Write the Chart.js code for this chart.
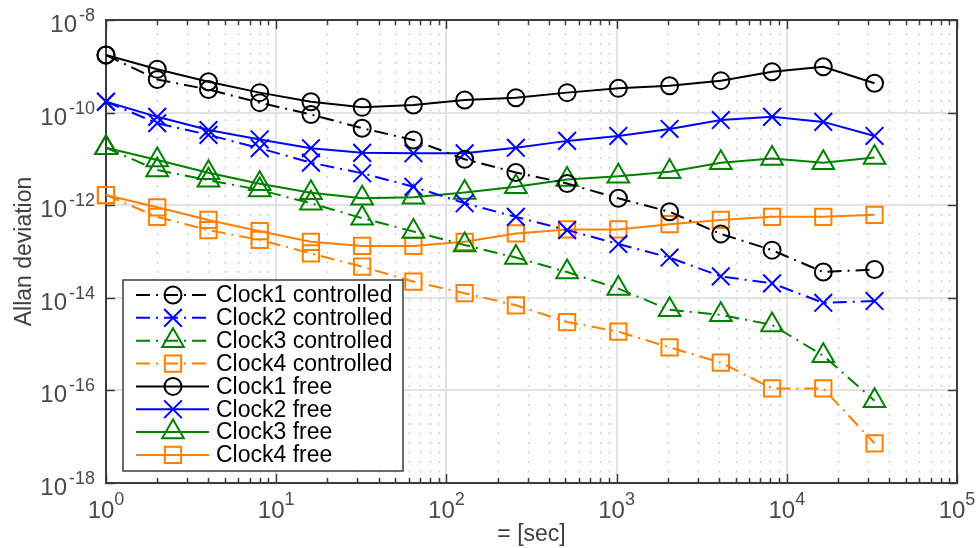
<!DOCTYPE html>
<html>
<head>
<meta charset="utf-8">
<script src="https://cdn.jsdelivr.net/npm/chart.js@4/dist/chart.umd.min.js"></script>
<style>
  html, body { margin: 0; padding: 0; background: #fff; }
  canvas { display: block; }
</style>
</head>
<body>
<canvas id="grafico" width="978" height="548"></canvas>
<script>
// averaging time tau [sec]
const tau = [1, 2, 4, 8, 16, 32, 64, 128, 256, 512, 1024, 2048, 4096, 8192, 16384, 32768];

// Allan deviation, controlled clocks
const clock1Controlled = [1.75e-9, 5.2e-10, 3.16e-10, 1.64e-10, 9.1e-11, 4.6e-11, 2.57e-11, 9.8e-12, 5.1e-12, 2.95e-12, 1.41e-12, 7.2e-13, 2.4e-13, 1.07e-13, 3.6e-14, 4.1e-14];
const clock2Controlled = [1.72e-10, 5.9e-11, 3.3e-11, 1.7e-11, 8.3e-12, 4.9e-12, 2.5e-12, 1.1e-12, 5.6e-13, 2.9e-13, 1.45e-13, 7.4e-14, 2.9e-14, 2.05e-14, 7.8e-15, 8.5e-15];
const clock3Controlled = [1.74e-11, 5.75e-12, 3.47e-12, 2.14e-12, 1.1e-12, 5.25e-13, 2.7e-13, 1.38e-13, 7.4e-14, 3.6e-14, 1.58e-14, 5.5e-15, 4.3e-15, 2.6e-15, 5.6e-16, 6.0e-17];
const clock4Controlled = [1.66e-12, 5.6e-13, 2.9e-13, 1.78e-13, 9.1e-14, 4.7e-14, 2.24e-14, 1.26e-14, 6.9e-15, 3.0e-15, 1.86e-15, 8.5e-16, 4.0e-16, 1.1e-16, 1.1e-16, 7.2e-18];

// Allan deviation, free running clocks
const clock1Free = [1.75e-9, 8.6e-10, 4.65e-10, 2.7e-10, 1.72e-10, 1.3e-10, 1.46e-10, 1.87e-10, 2.1e-10, 2.7e-10, 3.34e-10, 3.8e-10, 4.9e-10, 7.65e-10, 9.8e-10, 4.3e-10];
const clock2Free = [1.72e-10, 8.1e-11, 4.2e-11, 2.63e-11, 1.7e-11, 1.35e-11, 1.32e-11, 1.32e-11, 1.74e-11, 2.45e-11, 3.13e-11, 4.43e-11, 6.9e-11, 8.1e-11, 6.3e-11, 3.13e-11];
const clock3Free = [1.74e-11, 9.5e-12, 5.0e-12, 2.9e-12, 1.86e-12, 1.41e-12, 1.48e-12, 1.88e-12, 2.5e-12, 3.6e-12, 4.2e-12, 5.3e-12, 8.3e-12, 1.02e-11, 8.3e-12, 1.07e-11];
const clock4Free = [1.66e-12, 9.0e-13, 4.8e-13, 2.75e-13, 1.62e-13, 1.32e-13, 1.32e-13, 1.62e-13, 2.45e-13, 3.0e-13, 3.0e-13, 3.9e-13, 4.8e-13, 5.6e-13, 5.6e-13, 6.2e-13];

// axis decades (exponents of 10)
const xTickExponents = [0, 1, 2, 3, 4, 5];
const yTickExponents = [-18, -16, -14, -12, -10, -8];

const seriesLabels = [
    'Clock1 controlled', 'Clock2 controlled', 'Clock3 controlled', 'Clock4 controlled',
    'Clock1 free', 'Clock2 free', 'Clock3 free', 'Clock4 free'
];
const seriesValues = [
    clock1Controlled, clock2Controlled, clock3Controlled, clock4Controlled,
    clock1Free, clock2Free, clock3Free, clock4Free
];

// estilo de cada relógio
const cores = ['#000000', '#0000ff', '#008000', '#ff8000'];
const marcadores = [
    { pointStyle: 'circle', radius: 8.5 },
    { pointStyle: 'crossRot', radius: 12.5 },
    { pointStyle: 'triangle', radius: 12.5 },
    { pointStyle: 'rect', radius: 11.5 }
];
const tracoPontoTraco = [14, 6, 2, 6];

const FONTE = '"Liberation Sans", Arial, Helvetica, sans-serif';
const corEixo = '#3c3c3c';
const corTexto = '#4a4a4a';

const datasets = seriesLabels.map((label, i) => {
    const k = i % 4;
    const controlado = i < 4;
    return {
        label: label,
        data: tau.map((t, j) => ({ x: t, y: seriesValues[i][j] })),
        borderColor: cores[k],
        backgroundColor: 'rgba(0,0,0,0)',
        borderWidth: 2,
        borderDash: controlado ? tracoPontoTraco : [],
        tension: 0,
        pointStyle: marcadores[k].pointStyle,
        pointRadius: marcadores[k].radius,
        pointBorderWidth: 2,
        pointBorderColor: cores[k],
        pointBackgroundColor: 'rgba(0,0,0,0)',
        clip: false
    };
});

// grade, moldura e rótulos no estilo do MATLAB
const eixosPlugin = {
    id: 'eixosMatlab',
    beforeDatasetsDraw(chart) {
        const { ctx, chartArea: a, scales: { x, y } } = chart;
        ctx.save();

        // grade secundária pontilhada (x)
        ctx.strokeStyle = '#d0d0d0';
        ctx.lineWidth = 1.5;
        ctx.setLineDash([2, 7.5]);
        for (let d = xTickExponents[0]; d < xTickExponents[xTickExponents.length - 1]; d++) {
            for (let m = 2; m <= 9; m++) {
                const px = Math.round(x.getPixelForValue(m * Math.pow(10, d))) + 0.5;
                ctx.beginPath();
                ctx.moveTo(px, a.top + 4);
                ctx.lineTo(px, a.bottom);
                ctx.stroke();
            }
        }

        // grade principal
        ctx.setLineDash([]);
        ctx.strokeStyle = '#e2e2e2';
        ctx.lineWidth = 2;
        xTickExponents.slice(1, -1).forEach(e => {
            const px = Math.round(x.getPixelForValue(Math.pow(10, e)));
            ctx.beginPath();
            ctx.moveTo(px, a.top);
            ctx.lineTo(px, a.bottom);
            ctx.stroke();
        });
        yTickExponents.slice(1, -1).forEach(e => {
            const py = Math.round(y.getPixelForValue(Math.pow(10, e)));
            ctx.beginPath();
            ctx.moveTo(a.left, py);
            ctx.lineTo(a.right, py);
            ctx.stroke();
        });

        // marcas dos eixos
        ctx.strokeStyle = corEixo;
        ctx.lineWidth = 1.5;
        for (let d = xTickExponents[0]; d <= xTickExponents[xTickExponents.length - 1]; d++) {
            for (let m = 1; m <= 9; m++) {
                if (d === xTickExponents[xTickExponents.length - 1] && m > 1) break;
                const px = Math.round(x.getPixelForValue(m * Math.pow(10, d))) + 0.5;
                const len = m === 1 ? 9 : 5;
                ctx.beginPath();
                ctx.moveTo(px, a.bottom);
                ctx.lineTo(px, a.bottom - len);
                ctx.moveTo(px, a.top);
                ctx.lineTo(px, a.top + len);
                ctx.stroke();
            }
        }
        yTickExponents.forEach(e => {
            const py = Math.round(y.getPixelForValue(Math.pow(10, e))) + 0.5;
            ctx.beginPath();
            ctx.moveTo(a.left, py);
            ctx.lineTo(a.left + 9, py);
            ctx.moveTo(a.right, py);
            ctx.lineTo(a.right - 9, py);
            ctx.stroke();
        });

        // moldura
        ctx.lineWidth = 2;
        ctx.strokeRect(a.left, a.top, a.right - a.left, a.bottom - a.top);

        // rótulos dos eixos (10 com expoente)
        ctx.fillStyle = corTexto;
        ctx.textBaseline = 'alphabetic';
        const fBase = '24px ' + FONTE;
        const fExp = '18px ' + FONTE;
        xTickExponents.forEach(e => {
            const px = x.getPixelForValue(Math.pow(10, e));
            ctx.font = fBase;
            const w1 = ctx.measureText('10').width;
            ctx.font = fExp;
            const w2 = ctx.measureText(String(e)).width;
            const x0 = px - (w1 + w2) / 2;
            ctx.textAlign = 'left';
            ctx.font = fBase;
            ctx.fillText('10', x0, a.bottom + 35);
            ctx.font = fExp;
            ctx.fillText(String(e), x0 + w1, a.bottom + 22);
        });
        yTickExponents.forEach(e => {
            const py = y.getPixelForValue(Math.pow(10, e));
            const xd = a.left - 11;
            ctx.textAlign = 'right';
            ctx.font = fExp;
            const txt = '-' + Math.abs(e);
            const w2 = ctx.measureText(txt).width;
            ctx.fillText(txt, xd, py + 1);
            ctx.font = fBase;
            ctx.fillText('10', xd - w2 - 2, py + 12);
        });

        // títulos
        ctx.fillStyle = '#404040';
        ctx.font = '23px ' + FONTE;
        ctx.textAlign = 'center';
        ctx.fillText('= [sec]', (a.left + a.right) / 2, 541);
        ctx.translate(31, (a.top + a.bottom) / 2);
        ctx.rotate(-Math.PI / 2);
        ctx.fillText('Allan deviation', 0, 0);
        ctx.restore();
    },
    afterDatasetsDraw(chart) {
        const { ctx } = chart;
        const caixa = { left: 123, top: 280, right: 403, bottom: 471 };
        ctx.save();
        ctx.fillStyle = '#ffffff';
        ctx.fillRect(caixa.left, caixa.top, caixa.right - caixa.left, caixa.bottom - caixa.top);
        ctx.strokeStyle = corEixo;
        ctx.lineWidth = 1.5;
        ctx.strokeRect(caixa.left, caixa.top, caixa.right - caixa.left, caixa.bottom - caixa.top);

        const drawPoint = Chart.helpers && Chart.helpers.drawPoint;
        chart.data.datasets.forEach((ds, i) => {
            const yy = 295 + i * 22.85;
            ctx.strokeStyle = ds.borderColor;
            ctx.lineWidth = 2;
            ctx.setLineDash(ds.borderDash);
            ctx.beginPath();
            ctx.moveTo(136, yy);
            ctx.lineTo(209, yy);
            ctx.stroke();
            ctx.setLineDash([]);
            ctx.fillStyle = 'rgba(0,0,0,0)';
            if (drawPoint) {
                drawPoint(ctx, {
                    pointStyle: ds.pointStyle,
                    rotation: 0,
                    radius: ds.pointRadius,
                    borderWidth: 2
                }, 173, yy);
            }
            ctx.fillStyle = '#000000';
            ctx.font = '23px ' + FONTE;
            ctx.textAlign = 'left';
            ctx.textBaseline = 'middle';
            ctx.fillText(ds.label, 216, yy + 1);
        });
        ctx.restore();
    }
};

const ctxGrafico = document.getElementById('grafico').getContext('2d');
const grafico = new Chart(ctxGrafico, {
    type: 'line',
    data: { datasets: datasets },
    options: {
        responsive: false,
        animation: false,
        layout: {
            padding: { left: 106, top: 20, right: 21, bottom: 65 }
        },
        plugins: {
            legend: { display: false },
            tooltip: { enabled: false }
        },
        scales: {
            x: {
                type: 'logarithmic',
                min: Math.pow(10, xTickExponents[0]),
                max: Math.pow(10, xTickExponents[xTickExponents.length - 1]),
                display: false
            },
            y: {
                type: 'logarithmic',
                min: Math.pow(10, yTickExponents[0]),
                max: Math.pow(10, yTickExponents[yTickExponents.length - 1]),
                display: false
            }
        }
    },
    plugins: [eixosPlugin]
});
</script>
</body>
</html>
